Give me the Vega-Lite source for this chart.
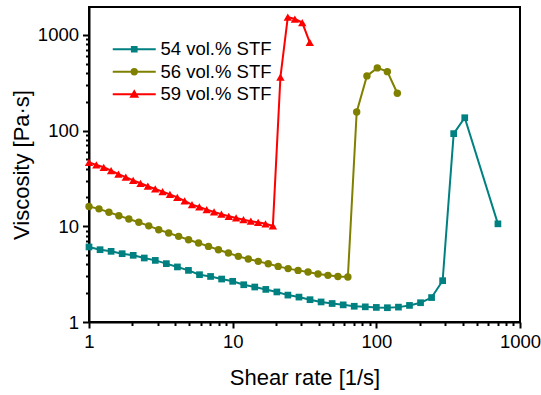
{
  "$schema": "https://vega.github.io/schema/vega-lite/v6.json",
  "width": 431,
  "height": 315,
  "autosize": {"type": "none"},
  "padding": {"left": 89, "top": 7, "right": 21, "bottom": 73},
  "background": "white",
  "config": {
    "view": {"stroke": "black", "strokeWidth": 2},
    "font": "Liberation Sans",
    "axis": {
      "grid": false,
      "domainColor": "black",
      "domainWidth": 2,
      "tickColor": "black",
      "tickWidth": 2,
      "labelColor": "black",
      "titleColor": "black",
      "labelFont": "Liberation Sans",
      "titleFont": "Liberation Sans",
      "labelFontSize": 18.5,
      "titleFontSize": 22,
      "titleFontWeight": "normal",
      "labelOverlap": false,
      "labelFlush": false,
      "labelBound": false
    },
    "legend": {
      "orient": "none",
      "legendX": 36,
      "legendY": 33,
      "padding": 0,
      "symbolSize": 100,
      "symbolStrokeWidth": 2,
      "symbolOpacity": 1,
      "labelOffset": 17,
      "labelFont": "Liberation Sans",
      "labelFontSize": 18.5,
      "labelColor": "black",
      "rowPadding": 3.5
    }
  },
  "data": {
    "values": [
      {"s": "54 vol.% STF", "x": 1, "y": 6.08},
      {"s": "54 vol.% STF", "x": 1.194, "y": 5.69},
      {"s": "54 vol.% STF", "x": 1.425, "y": 5.47},
      {"s": "54 vol.% STF", "x": 1.701, "y": 5.17},
      {"s": "54 vol.% STF", "x": 2.031, "y": 4.97},
      {"s": "54 vol.% STF", "x": 2.424, "y": 4.66},
      {"s": "54 vol.% STF", "x": 2.894, "y": 4.4},
      {"s": "54 vol.% STF", "x": 3.455, "y": 4.07},
      {"s": "54 vol.% STF", "x": 4.125, "y": 3.76},
      {"s": "54 vol.% STF", "x": 4.924, "y": 3.46},
      {"s": "54 vol.% STF", "x": 5.878, "y": 3.12},
      {"s": "54 vol.% STF", "x": 7.017, "y": 2.99},
      {"s": "54 vol.% STF", "x": 8.377, "y": 2.81},
      {"s": "54 vol.% STF", "x": 10, "y": 2.66},
      {"s": "54 vol.% STF", "x": 11.94, "y": 2.45},
      {"s": "54 vol.% STF", "x": 14.25, "y": 2.32},
      {"s": "54 vol.% STF", "x": 17.01, "y": 2.19},
      {"s": "54 vol.% STF", "x": 20.31, "y": 2.06},
      {"s": "54 vol.% STF", "x": 24.24, "y": 1.91},
      {"s": "54 vol.% STF", "x": 28.94, "y": 1.82},
      {"s": "54 vol.% STF", "x": 34.55, "y": 1.71},
      {"s": "54 vol.% STF", "x": 41.25, "y": 1.62},
      {"s": "54 vol.% STF", "x": 49.24, "y": 1.56},
      {"s": "54 vol.% STF", "x": 58.78, "y": 1.51},
      {"s": "54 vol.% STF", "x": 70.17, "y": 1.46},
      {"s": "54 vol.% STF", "x": 83.77, "y": 1.44},
      {"s": "54 vol.% STF", "x": 100, "y": 1.42},
      {"s": "54 vol.% STF", "x": 119.4, "y": 1.41},
      {"s": "54 vol.% STF", "x": 142.5, "y": 1.43},
      {"s": "54 vol.% STF", "x": 170.1, "y": 1.49},
      {"s": "54 vol.% STF", "x": 203.1, "y": 1.59},
      {"s": "54 vol.% STF", "x": 242.4, "y": 1.8},
      {"s": "54 vol.% STF", "x": 289.4, "y": 2.7},
      {"s": "54 vol.% STF", "x": 345.5, "y": 92.8},
      {"s": "54 vol.% STF", "x": 412.5, "y": 136},
      {"s": "54 vol.% STF", "x": 702, "y": 10.6},
      {"s": "56 vol.% STF", "x": 1, "y": 16.1},
      {"s": "56 vol.% STF", "x": 1.173, "y": 15.2},
      {"s": "56 vol.% STF", "x": 1.376, "y": 14.0},
      {"s": "56 vol.% STF", "x": 1.614, "y": 12.9},
      {"s": "56 vol.% STF", "x": 1.893, "y": 11.9},
      {"s": "56 vol.% STF", "x": 2.221, "y": 11.0},
      {"s": "56 vol.% STF", "x": 2.605, "y": 10.1},
      {"s": "56 vol.% STF", "x": 3.056, "y": 9.21},
      {"s": "56 vol.% STF", "x": 3.584, "y": 8.51},
      {"s": "56 vol.% STF", "x": 4.205, "y": 7.84},
      {"s": "56 vol.% STF", "x": 4.932, "y": 7.24},
      {"s": "56 vol.% STF", "x": 5.786, "y": 6.69},
      {"s": "56 vol.% STF", "x": 6.787, "y": 6.16},
      {"s": "56 vol.% STF", "x": 7.961, "y": 5.69},
      {"s": "56 vol.% STF", "x": 9.338, "y": 5.26},
      {"s": "56 vol.% STF", "x": 10.95, "y": 4.85},
      {"s": "56 vol.% STF", "x": 12.85, "y": 4.55},
      {"s": "56 vol.% STF", "x": 15.07, "y": 4.3},
      {"s": "56 vol.% STF", "x": 17.68, "y": 4.06},
      {"s": "56 vol.% STF", "x": 20.74, "y": 3.81},
      {"s": "56 vol.% STF", "x": 24.32, "y": 3.61},
      {"s": "56 vol.% STF", "x": 28.53, "y": 3.46},
      {"s": "56 vol.% STF", "x": 33.47, "y": 3.33},
      {"s": "56 vol.% STF", "x": 39.26, "y": 3.17},
      {"s": "56 vol.% STF", "x": 46.05, "y": 3.07},
      {"s": "56 vol.% STF", "x": 54.02, "y": 2.99},
      {"s": "56 vol.% STF", "x": 63.37, "y": 2.95},
      {"s": "56 vol.% STF", "x": 73, "y": 156},
      {"s": "56 vol.% STF", "x": 86, "y": 372},
      {"s": "56 vol.% STF", "x": 101.6, "y": 451},
      {"s": "56 vol.% STF", "x": 119.3, "y": 412},
      {"s": "56 vol.% STF", "x": 140, "y": 245},
      {"s": "59 vol.% STF", "x": 1, "y": 46.5},
      {"s": "59 vol.% STF", "x": 1.125, "y": 43.7},
      {"s": "59 vol.% STF", "x": 1.266, "y": 41.3},
      {"s": "59 vol.% STF", "x": 1.425, "y": 38.1},
      {"s": "59 vol.% STF", "x": 1.603, "y": 35.0},
      {"s": "59 vol.% STF", "x": 1.803, "y": 32.6},
      {"s": "59 vol.% STF", "x": 2.029, "y": 30.2},
      {"s": "59 vol.% STF", "x": 2.283, "y": 28.1},
      {"s": "59 vol.% STF", "x": 2.569, "y": 26.2},
      {"s": "59 vol.% STF", "x": 2.89, "y": 24.5},
      {"s": "59 vol.% STF", "x": 3.251, "y": 23.0},
      {"s": "59 vol.% STF", "x": 3.658, "y": 21.5},
      {"s": "59 vol.% STF", "x": 4.116, "y": 20.0},
      {"s": "59 vol.% STF", "x": 4.631, "y": 18.4},
      {"s": "59 vol.% STF", "x": 5.21, "y": 16.8},
      {"s": "59 vol.% STF", "x": 5.861, "y": 15.9},
      {"s": "59 vol.% STF", "x": 6.595, "y": 14.9},
      {"s": "59 vol.% STF", "x": 7.42, "y": 14.1},
      {"s": "59 vol.% STF", "x": 8.348, "y": 13.4},
      {"s": "59 vol.% STF", "x": 9.392, "y": 12.7},
      {"s": "59 vol.% STF", "x": 10.57, "y": 12.2},
      {"s": "59 vol.% STF", "x": 11.89, "y": 11.7},
      {"s": "59 vol.% STF", "x": 13.38, "y": 11.3},
      {"s": "59 vol.% STF", "x": 15.05, "y": 11.0},
      {"s": "59 vol.% STF", "x": 16.93, "y": 10.6},
      {"s": "59 vol.% STF", "x": 19.05, "y": 10.1},
      {"s": "59 vol.% STF", "x": 21.5, "y": 361},
      {"s": "59 vol.% STF", "x": 24.2, "y": 1531},
      {"s": "59 vol.% STF", "x": 27.1, "y": 1459},
      {"s": "59 vol.% STF", "x": 30.5, "y": 1342},
      {"s": "59 vol.% STF", "x": 34.4, "y": 833}
    ]
  },
  "encoding": {
    "x": {
      "field": "x",
      "type": "quantitative",
      "scale": {"type": "log", "domain": [1, 1000]},
      "axis": {
        "title": "Shear rate [1/s]",
        "values": [1,2,3,4,5,6,7,8,9,10,20,30,40,50,60,70,80,90,100,200,300,400,500,600,700,800,900,1000],
        "labelExpr": "indexof([1,10,100,1000], datum.value) >= 0 ? format(datum.value, 'd') : ''",
        "tickSize": {"condition": {"test": "indexof([1,10,100,1000], datum.value) >= 0", "value": 6}, "value": 3.5},
        "labelPadding": 4,
        "titlePadding": 17
      }
    },
    "y": {
      "field": "y",
      "type": "quantitative",
      "scale": {"type": "log", "domain": [1, 1950]},
      "axis": {
        "title": "Viscosity [Pa·s]",
        "values": [1,2,3,4,5,6,7,8,9,10,20,30,40,50,60,70,80,90,100,200,300,400,500,600,700,800,900,1000],
        "labelExpr": "indexof([1,10,100,1000], datum.value) >= 0 ? format(datum.value, 'd') : ''",
        "tickSize": {"condition": {"test": "indexof([1,10,100,1000], datum.value) >= 0", "value": 6.5}, "value": 3.5},
        "labelPadding": 4,
        "titlePadding": 4
      }
    },
    "color": {
      "field": "s",
      "type": "nominal",
      "title": null,
      "scale": {"domain": ["54 vol.% STF", "56 vol.% STF", "59 vol.% STF"], "range": ["#008080", "#808000", "#ff0000"]}
    }
  },
  "layer": [
    {"mark": {"type": "line", "strokeWidth": 2}},
    {
      "transform": [{"filter": "datum.s === '54 vol.% STF'"}],
      "mark": {"type": "point", "filled": true, "opacity": 1, "shape": "square", "size": 45}
    },
    {
      "transform": [{"filter": "datum.s === '56 vol.% STF'"}],
      "mark": {"type": "point", "filled": true, "opacity": 1, "shape": "circle", "size": 55}
    },
    {
      "transform": [{"filter": "datum.s === '59 vol.% STF'"}],
      "mark": {"type": "point", "filled": true, "opacity": 1, "shape": "triangle-up", "size": 70}
    },
    {
      "mark": {"type": "point", "filled": true, "opacity": 0, "size": 100},
      "encoding": {
        "shape": {
          "field": "s",
          "type": "nominal",
          "title": null,
          "scale": {
            "domain": ["54 vol.% STF", "56 vol.% STF", "59 vol.% STF"],
            "range": [
              "M-4.3,0H4.3M-0.47,-0.47H0.47V0.47H-0.47Z",
              "M-4.3,0H4.3M0.53,0A0.53,0.53,0,1,1,-0.53,0A0.53,0.53,0,1,1,0.53,0Z",
              "M-4.3,0H4.3M0,-0.6L0.63,0.5H-0.63Z"
            ]
          }
        }
      }
    }
  ]
}
